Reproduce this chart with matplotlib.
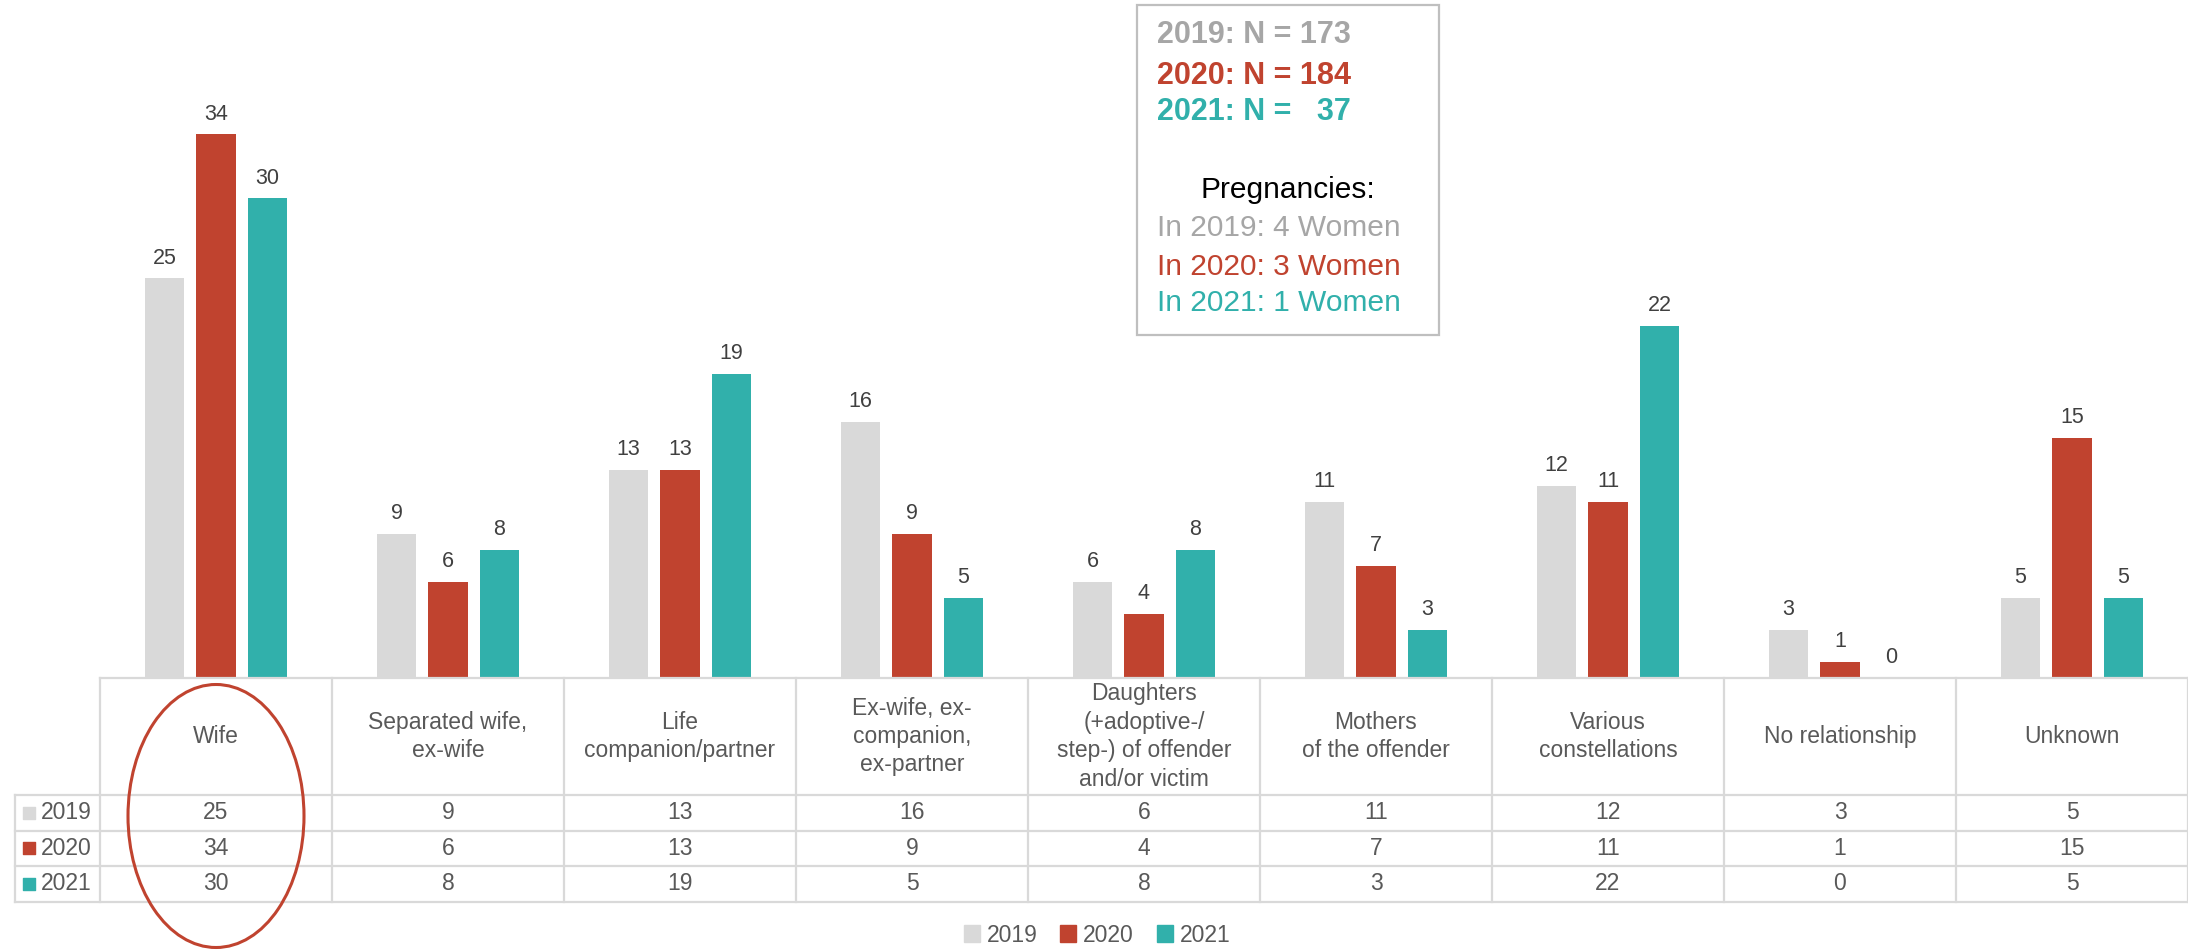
import matplotlib
matplotlib.use("Agg")
import matplotlib.pyplot as plt
from matplotlib.patches import Ellipse, Patch
import numpy as np

plt.rcParams['font.family'] = ['Liberation Sans', 'DejaVu Sans']

categories = ["Wife", "Separated wife,\nex-wife", "Life\ncompanion/partner",
              "Ex-wife, ex-\ncompanion,\nex-partner",
              "Daughters\n(+adoptive-/\nstep-) of offender\nand/or victim",
              "Mothers\nof the offender", "Various\nconstellations",
              "No relationship", "Unknown"]
years = ["2019", "2020", "2021"]
v2019 = [25, 9, 13, 16, 6, 11, 12, 3, 5]
v2020 = [34, 6, 13, 9, 4, 7, 11, 1, 15]
v2021 = [30, 8, 19, 5, 8, 3, 22, 0, 5]
series = [v2019, v2020, v2021]
colors = ["#d9d9d9", "#c0432f", "#31b0ab"]
box_colors = ["#a6a6a6", "#c0432f", "#31b0ab"]
n_lines = ["2019: N = 173", "2020: N = 184", "2021: N =   37"]
preg_lines = ["In 2019: 4 Women", "In 2020: 3 Women", "In 2021: 1 Women"]

W, H = 2188, 950
fig = plt.figure(figsize=(W / 100, H / 100), dpi=100)

def fx(px):
    return px / W

def fy(py):
    return 1 - py / H

# bar axes
base = 678
ax = fig.add_axes([fx(100), fy(base), fx(W) - fx(100), fy(0) - fy(base)])
ax.set_xlim(-0.5, len(categories) - 0.5)
ax.set_ylim(0, 42.4)
ax.axis('off')
x = np.arange(len(categories))
bw = 0.172
off = 0.222
for i, (vals, c) in enumerate(zip(series, colors)):
    bars = ax.bar(x + (i - 1) * off, vals, bw, color=c)
    for b, v in zip(bars, vals):
        ax.annotate(str(v), (b.get_x() + b.get_width() / 2, b.get_height()),
                    xytext=(0, 7), textcoords='offset points', ha='center',
                    va='bottom', fontsize=15.5, color='#404040')

# table axes
tab_top, head_bot, row_h = base, 795, 35.5
tab_bot = head_bot + 3 * row_h
colw = 232
tx = fig.add_axes([fx(15), fy(tab_bot), fx(W) - fx(15), fy(tab_top) - fy(tab_bot)])
tx.set_xlim(-0.5 - 85 / colw, len(categories) - 0.5)
tx.set_ylim(tab_bot - tab_top, 0)
tx.axis('off')
lc = "#d9d9d9"
lw = 1.6
hb = head_bot - tab_top
tb = tab_bot - tab_top
xl = -0.5 - 85 / colw
tx.plot([-0.5, len(categories) - 0.5], [0, 0], color=lc, lw=lw, clip_on=False)
for k in range(len(categories) + 1):
    tx.plot([k - 0.5, k - 0.5], [0, tb], color=lc, lw=lw, clip_on=False)
for r in range(4):
    y = hb + r * row_h
    tx.plot([xl, len(categories) - 0.5], [y, y], color=lc, lw=lw, clip_on=False)
tx.plot([xl, xl], [hb, tb], color=lc, lw=lw, clip_on=False)

for k, cat in enumerate(categories):
    tx.text(k, hb / 2, cat, ha='center', va='center', fontsize=16.5,
            color='#595959', linespacing=1.3)
for r, (yr, vals, c) in enumerate(zip(years, series, colors)):
    yc = hb + (r + 0.5) * row_h
    tx.scatter([xl + 14 / colw], [yc], marker='s', s=80, color=c, clip_on=False)
    tx.text(xl + 26 / colw, yc, yr, ha='left', va='center', fontsize=16.5, color='#595959')
    for k, v in enumerate(vals):
        tx.text(k, yc, str(v), ha='center', va='center', fontsize=16.5, color='#595959')

# info box
box = plt.Rectangle((fx(1137), fy(335)), fx(1439) - fx(1137), fy(5) - fy(335),
                    transform=fig.transFigure, fill=False, edgecolor='#bfbfbf', lw=1.6)
fig.add_artist(box)
for line, c, py in zip(n_lines, box_colors, [35, 76, 112]):
    fig.text(fx(1157), fy(py), line, color=c, fontsize=22, fontweight='bold',
             ha='left', va='center')
fig.text(fx(1288), fy(190), "Pregnancies:", color='black', fontsize=21.5,
         ha='center', va='center')
for line, c, py in zip(preg_lines, box_colors, [228, 267, 303]):
    fig.text(fx(1157), fy(py), line, color=c, fontsize=21.5, ha='left', va='center')

# ellipse round "Wife"
ell = Ellipse((fx(216), fy(816)), fx(176), 263 / H, transform=fig.transFigure,
              fill=False, edgecolor='#c0432f', lw=2.2)
fig.add_artist(ell)

# bottom legend
handles = [Patch(color=c, label=y) for c, y in zip(colors, years)]
leg = fig.legend(handles=handles, loc='center', bbox_to_anchor=(fx(1097), fy(935)),
                 ncol=3, frameon=False, fontsize=16.5, handlelength=0.7, handleheight=0.7,
                 handletextpad=0.3, columnspacing=1.0)
for t in leg.get_texts():
    t.set_color('#595959')

fig.savefig("out.png", dpi=100)
